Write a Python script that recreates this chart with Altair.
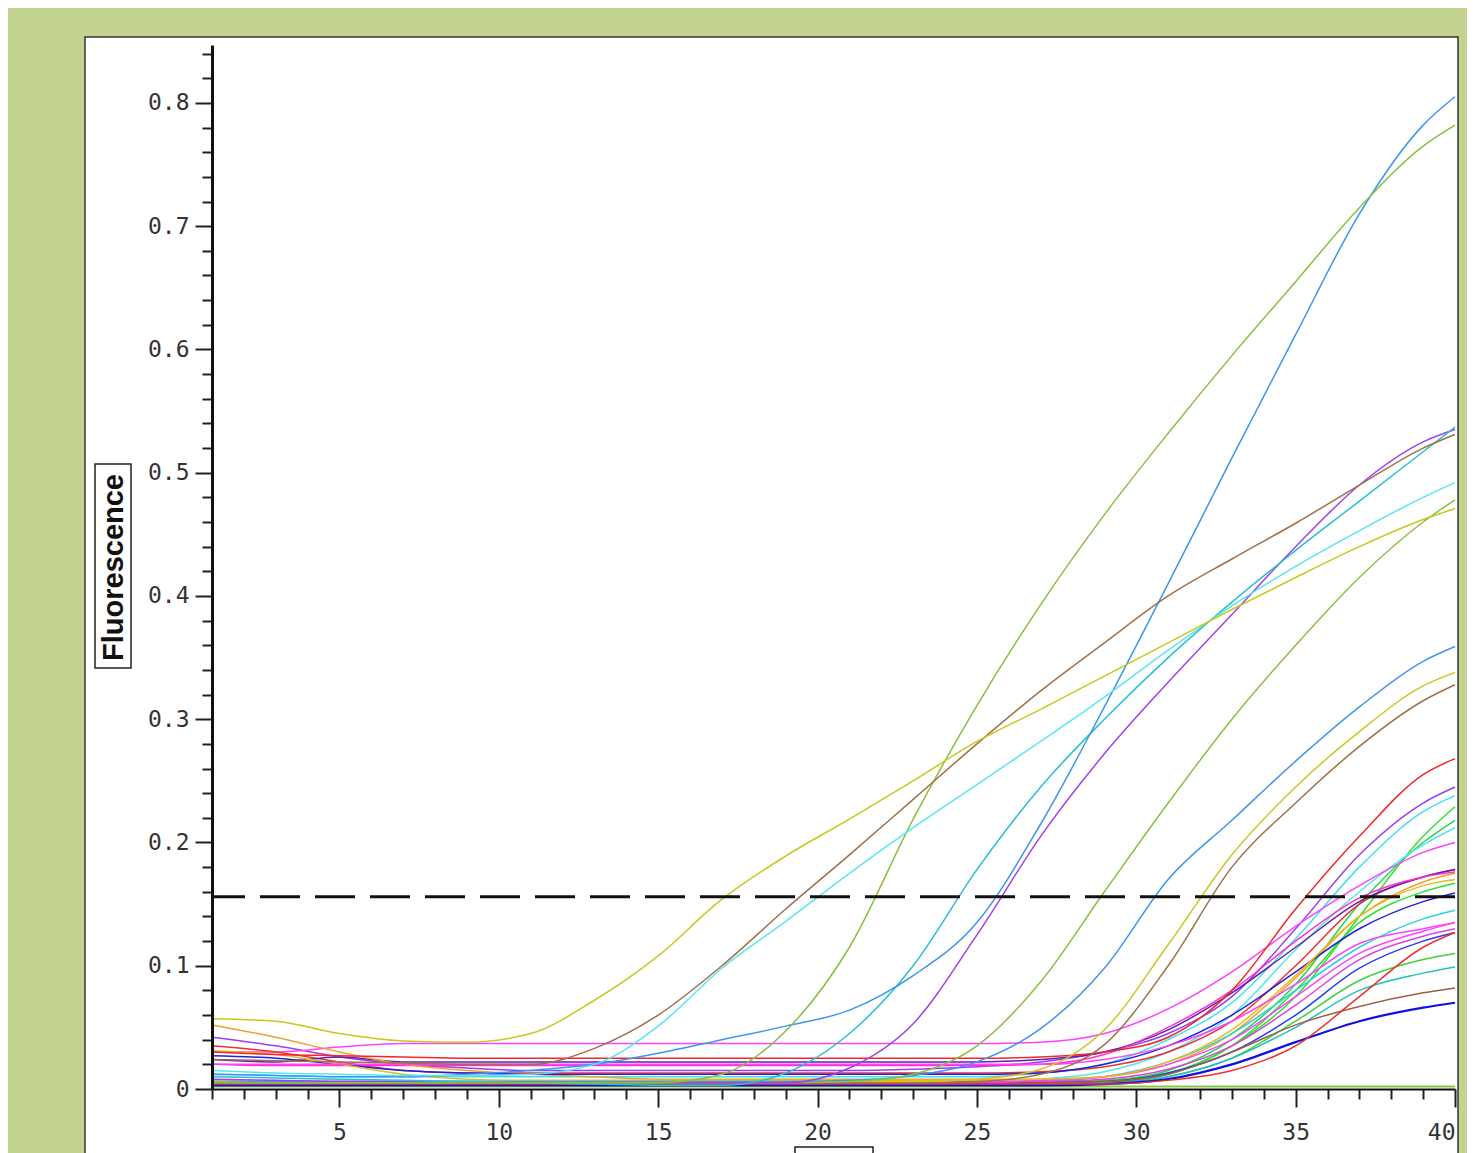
import altair as alt
import pandas as pd

# ---------------- data ----------------
CYCLES = [1, 3, 5, 7, 9, 11, 13, 15, 17, 19, 21, 23, 25, 27, 29, 31, 33, 35, 37, 39, 40]
THRESHOLD = 0.156
X_TICKS = list(range(1, 41))
Y_TICKS = [round(0.02 * i, 2) for i in range(43)]

yellow_early = [.057, .055, .045, .039, .038, .045, .072, .108, .154, .189, .219, .250, .282, .308, .335, .362, .389, .415, .440, .462, .471]
brown_early = [.024, .023, .022, .021, .020, .020, .033, .060, .100, .146, .190, .235, .280, .323, .362, .400, .430, .459, .490, .520, .531]
cyan_early = [.015, .013, .012, .011, .011, .012, .020, .051, .098, .136, .175, .212, .247, .282, .318, .356, .392, .424, .453, .480, .492]
green_steep = [.006, .005, .005, .005, .005, .005, .005, .005, .012, .047, .115, .219, .311, .393, .466, .532, .595, .655, .715, .765, .782]
blue_steep = [.012, .011, .010, .010, .012, .015, .020, .029, .040, .051, .064, .092, .135, .215, .310, .410, .512, .612, .710, .782, .805]
teal_mid = [.010, .009, .008, .007, .006, .005, .004, .003, .003, .013, .045, .100, .178, .245, .300, .350, .395, .437, .477, .517, .537]
purple_mid = [.008, .007, .006, .006, .005, .005, .005, .005, .005, .005, .017, .053, .125, .205, .272, .330, .385, .440, .490, .525, .535]
green_mid = [.005, .005, .005, .005, .005, .005, .005, .005, .005, .005, .006, .012, .035, .087, .160, .232, .300, .360, .415, .460, .478]
blue_mid = [.006, .006, .006, .006, .006, .006, .006, .006, .006, .006, .007, .011, .022, .049, .098, .170, .218, .266, .310, .347, .359]
yellow_mid = [.006, .006, .006, .006, .006, .006, .006, .006, .006, .006, .006, .006, .008, .016, .048, .117, .190, .245, .290, .327, .338]
brown_mid = [.005, .005, .005, .005, .005, .005, .005, .005, .005, .005, .005, .005, .006, .012, .036, .100, .180, .232, .278, .315, .328]
red_mid = [.030, .028, .027, .026, .025, .025, .025, .025, .025, .025, .025, .025, .025, .026, .030, .042, .080, .146, .205, .255, .268]

late_purple = [.042, .035, .026, .020, .017, .015, .015, .015, .015, .015, .015, .016, .018, .022, .030, .045, .075, .130, .190, .232, .245]
late_cyan1 = [.012, .011, .010, .010, .010, .010, .010, .010, .010, .010, .010, .010, .010, .013, .020, .040, .070, .122, .180, .225, .238]
late_green1 = [.004, .004, .004, .004, .004, .004, .004, .004, .004, .004, .004, .004, .004, .005, .007, .013, .035, .075, .140, .205, .229]
late_green2 = [.003, .003, .003, .003, .003, .003, .003, .003, .003, .003, .003, .003, .003, .003, .006, .015, .040, .085, .150, .200, .218]
late_cyan2 = [.006, .006, .006, .006, .006, .006, .006, .006, .006, .006, .006, .006, .006, .008, .014, .030, .060, .113, .160, .198, .212]
late_magenta1 = [.030, .030, .034, .037, .037, .037, .037, .037, .037, .037, .037, .037, .037, .038, .045, .065, .095, .132, .165, .192, .200]
late_red1 = [.035, .030, .022, .015, .013, .013, .013, .013, .013, .013, .013, .013, .013, .014, .018, .030, .055, .100, .150, .172, .178]
late_violet = [.024, .022, .026, .022, .022, .022, .022, .022, .022, .022, .022, .022, .022, .024, .030, .048, .078, .115, .152, .172, .178]
late_magenta2 = [.020, .019, .019, .019, .019, .019, .019, .019, .019, .019, .019, .019, .019, .020, .028, .050, .080, .120, .155, .172, .176]
late_orange = [.052, .042, .030, .020, .015, .012, .010, .008, .008, .008, .008, .008, .008, .008, .010, .020, .045, .090, .140, .168, .175]
late_green3 = [.003, .003, .003, .003, .003, .003, .003, .003, .003, .003, .003, .003, .003, .003, .005, .012, .035, .080, .135, .160, .167]
late_navy = [.027, .025, .020, .015, .013, .012, .012, .012, .012, .012, .012, .012, .012, .013, .020, .035, .060, .095, .130, .152, .159]
late_cyan3 = [.005, .005, .005, .005, .005, .005, .005, .005, .005, .005, .005, .005, .005, .006, .010, .022, .045, .080, .115, .138, .145]
late_magenta3 = [.006, .006, .006, .006, .006, .006, .006, .006, .006, .006, .006, .006, .006, .007, .010, .020, .040, .075, .110, .128, .135]
late_magenta4 = [.005, .005, .005, .005, .005, .005, .005, .005, .005, .005, .005, .005, .005, .006, .008, .016, .035, .068, .105, .124, .130]
late_blue1 = [.004, .004, .004, .004, .004, .004, .004, .004, .004, .004, .004, .004, .004, .005, .006, .013, .030, .060, .098, .120, .127]
late_yellow = [.031, .028, .020, .012, .008, .007, .007, .007, .007, .007, .007, .007, .007, .008, .010, .022, .048, .092, .140, .165, .170]
late_green4 = [.003, .003, .003, .003, .003, .003, .003, .003, .003, .003, .003, .003, .003, .003, .004, .010, .025, .055, .088, .105, .110]
late_teal = [.004, .004, .004, .004, .004, .004, .004, .004, .004, .004, .004, .004, .004, .004, .005, .010, .025, .050, .080, .094, .099]
late_brown = [.004, .004, .004, .004, .004, .004, .004, .004, .004, .004, .004, .004, .004, .005, .006, .012, .030, .052, .067, .078, .082]
late_blue2 = [.003, .003, .003, .003, .003, .003, .003, .003, .003, .003, .003, .003, .003, .003, .004, .008, .020, .038, .055, .066, .070]
late_red2 = [.004, .004, .004, .004, .004, .004, .004, .004, .004, .004, .004, .004, .004, .004, .004, .007, .015, .035, .075, .115, .127]
late_magenta5 = [.020, .020, .020, .020, .020, .020, .020, .020, .020, .020, .020, .020, .020, .020, .024, .035, .055, .085, .118, .130, .135]
flat_green = [.002, .002, .002, .002, .002, .002, .002, .002, .002, .002, .002, .002, .002, .002, .002, .002, .002, .002, .002, .002, .002]

CURVES = [
    ("flat_green", "#88c848", 2.0, flat_green),
    ("late_purple", "#9a3cf0", 1.5, late_purple),
    ("late_cyan1", "#40e0f0", 1.5, late_cyan1),
    ("late_green1", "#30e030", 1.5, late_green1),
    ("late_green2", "#22d84a", 1.5, late_green2),
    ("late_cyan2", "#50e8f0", 1.5, late_cyan2),
    ("late_magenta1", "#ff40ff", 1.5, late_magenta1),
    ("late_red1", "#f03030", 1.5, late_red1),
    ("late_violet", "#6020b0", 1.5, late_violet),
    ("late_magenta2", "#ff30d0", 1.5, late_magenta2),
    ("late_orange", "#f0a030", 1.5, late_orange),
    ("late_green3", "#30e030", 1.5, late_green3),
    ("late_navy", "#2020e0", 1.5, late_navy),
    ("late_cyan3", "#30d0d8", 1.5, late_cyan3),
    ("late_magenta3", "#ff40ff", 1.5, late_magenta3),
    ("late_magenta4", "#e040e0", 1.5, late_magenta4),
    ("late_blue1", "#2040f0", 1.5, late_blue1),
    ("late_yellow", "#e0c020", 1.5, late_yellow),
    ("late_green4", "#40d040", 1.5, late_green4),
    ("late_teal", "#20c0c0", 1.5, late_teal),
    ("late_brown", "#a06040", 1.5, late_brown),
    ("late_blue2", "#1010e0", 2.2, late_blue2),
    ("late_red2", "#f03030", 1.5, late_red2),
    ("late_magenta5", "#ff40ff", 1.5, late_magenta5),
    ("red_mid", "#f02828", 1.5, red_mid),
    ("brown_mid", "#a0704a", 1.5, brown_mid),
    ("yellow_mid", "#c8c81e", 1.5, yellow_mid),
    ("blue_mid", "#3c96f0", 1.5, blue_mid),
    ("green_mid", "#88c040", 1.5, green_mid),
    ("purple_mid", "#a040f0", 1.5, purple_mid),
    ("teal_mid", "#28c0d0", 1.5, teal_mid),
    ("blue_steep", "#3c96f0", 1.5, blue_steep),
    ("green_steep", "#88c040", 1.5, green_steep),
    ("cyan_early", "#5ae6f0", 1.5, cyan_early),
    ("brown_early", "#a0704a", 1.5, brown_early),
    ("yellow_early", "#c8c81e", 1.5, yellow_early),
]

rows = []
for order, (name, color, width, values) in enumerate(CURVES):
    for c, v in zip(CYCLES, values):
        rows.append({"curve": name, "k": order, "color": color, "w": width, "cycle": c, "value": v})
df = pd.DataFrame(rows)

# ---------------- layout ----------------
W, H = 1243, 1044
BG = "#c3d491"
MONO = "DejaVu Sans Mono"

x_scale = alt.Scale(domain=[1, 40], nice=False, zero=False)
y_scale = alt.Scale(domain=[0, 0.847], nice=False, zero=False)

x_axis = alt.Axis(
    values=X_TICKS,
    tickCount=200,
    labelExpr="datum.value % 5 === 0 ? format(datum.value, 'd') : ''",
    labelOverlap=False,
    labelAngle=0,
    labelFont=MONO, labelFontSize=23, labelColor="#333333",
    labelPadding=14,
    tickSize={"condition": {"test": "datum.value % 5 === 0", "value": 18}, "value": 10},
    tickColor="#222222", tickWidth=2,
    domainColor="#111111", domainWidth=2,
    grid=False,
    title="Cycle",
    titleFont="Liberation Sans", titleFontWeight="bold", titleFontSize=25, titleColor="#111111",
    titleY=79, titleBaseline="middle",
    zindex=1,
)

y_axis = alt.Axis(
    values=Y_TICKS,
    tickCount=200,
    labelExpr="round(datum.value * 50) % 5 === 0 ? format(datum.value, '.1~f') : ''",
    labelOverlap=False,
    labelFont=MONO, labelFontSize=23, labelColor="#333333",
    labelPadding=6,
    tickSize={"condition": {"test": "round(datum.value * 50) % 5 === 0", "value": 17}, "value": 10},
    tickColor="#222222", tickWidth=2,
    domainColor="#111111", domainWidth=3,
    grid=False,
    title="Fluorescence",
    titleFont="Liberation Sans", titleFontWeight="bold", titleFontSize=29, titleColor="#111111",
    titleX=-99, titleY=H / 2, titleAngle=270, titleBaseline="middle", titleAlign="center",
    zindex=1,
)

one = pd.DataFrame({"p": [0]})

panel = alt.Chart(one).mark_rect(fill="white", stroke="#333333", strokeWidth=1.5).encode(
    x=alt.value(-127), x2=alt.value(1246), y=alt.value(-8), y2=alt.value(1200)
)
ybox = alt.Chart(one).mark_rect(fill="white", stroke="#222222", strokeWidth=1.5).encode(
    x=alt.value(-117), x2=alt.value(-81), y=alt.value(419), y2=alt.value(623)
)
xbox = alt.Chart(one).mark_rect(fill="white", stroke="#222222", strokeWidth=1.5).encode(
    x=alt.value(583), x2=alt.value(661), y=alt.value(1102), y2=alt.value(1150)
)

lines = alt.Chart(df).mark_line(interpolate="monotone").encode(
    x=alt.X("cycle:Q", scale=x_scale, axis=x_axis),
    y=alt.Y("value:Q", scale=y_scale, axis=y_axis),
    detail="curve:N",
    color=alt.Color("color:N", scale=None),
    strokeWidth=alt.StrokeWidth("w:Q", scale=None),
    order="cycle:Q",
)

thr = alt.Chart(pd.DataFrame({"t": [THRESHOLD]})).mark_rule(
    color="#111111", strokeWidth=3, strokeDash=[40, 15]
).encode(y=alt.Y("t:Q", scale=y_scale))

chart = alt.layer(panel, ybox, xbox, lines, thr).properties(
    width=W, height=H,
    background=BG,
    padding={"left": 204, "top": 37, "right": 12, "bottom": 64},
    autosize=alt.AutoSizeParams(type="none"),
).configure_view(stroke=None)

chart.save("out.html", embed_options={"renderer": "svg", "actions": False})
